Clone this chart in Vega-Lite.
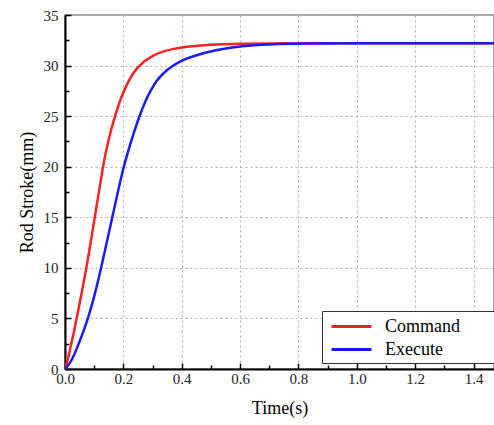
{
  "$schema": "https://vega.github.io/schema/vega-lite/v6.json",
  "width": 429,
  "height": 354,
  "autosize": {"type": "none"},
  "padding": {"left": 65, "top": 15, "right": 0, "bottom": 56},
  "background": "white",
  "config": {
    "font": "Liberation Serif",
    "view": {"stroke": "#8a8a8a", "strokeWidth": 1.5},
    "text": {"font": "Liberation Serif"},
    "axis": {
      "domainColor": "black",
      "domainWidth": 2,
      "tickColor": "black",
      "tickWidth": 1.5,
      "labelFont": "Liberation Serif",
      "labelFontSize": 15,
      "labelColor": "#222",
      "titleFont": "Liberation Serif",
      "titleFontSize": 18,
      "titleFontWeight": "normal",
      "titleColor": "black",
      "gridColor": "#b0b0b0",
      "gridDash": [2, 3],
      "gridWidth": 1
    },
    "legend": {"labelFont": "Liberation Serif", "titleFont": "Liberation Serif"}
  },
  "data": {
    "values": [
      {"t": 0, "y": 0, "series": "Command"},
      {"t": 0.01, "y": 1.0, "series": "Command"},
      {"t": 0.02, "y": 2.3, "series": "Command"},
      {"t": 0.03, "y": 3.6, "series": "Command"},
      {"t": 0.04, "y": 5.0, "series": "Command"},
      {"t": 0.057, "y": 7.5, "series": "Command"},
      {"t": 0.074, "y": 10.1, "series": "Command"},
      {"t": 0.088, "y": 12.5, "series": "Command"},
      {"t": 0.102, "y": 15.0, "series": "Command"},
      {"t": 0.116, "y": 17.5, "series": "Command"},
      {"t": 0.129, "y": 19.8, "series": "Command"},
      {"t": 0.14, "y": 21.5, "series": "Command"},
      {"t": 0.152, "y": 23.0, "series": "Command"},
      {"t": 0.171, "y": 25.0, "series": "Command"},
      {"t": 0.19, "y": 26.7, "series": "Command"},
      {"t": 0.215, "y": 28.4, "series": "Command"},
      {"t": 0.247, "y": 29.9, "series": "Command"},
      {"t": 0.298, "y": 31.05, "series": "Command"},
      {"t": 0.367, "y": 31.7, "series": "Command"},
      {"t": 0.47, "y": 32.05, "series": "Command"},
      {"t": 0.6, "y": 32.18, "series": "Command"},
      {"t": 0.8, "y": 32.2, "series": "Command"},
      {"t": 1.0, "y": 32.2, "series": "Command"},
      {"t": 1.47, "y": 32.2, "series": "Command"},
      {"t": 0, "y": 0, "series": "Execute"},
      {"t": 0.017, "y": 0.55, "series": "Execute"},
      {"t": 0.03, "y": 1.3, "series": "Execute"},
      {"t": 0.046, "y": 2.4, "series": "Execute"},
      {"t": 0.063, "y": 3.7, "series": "Execute"},
      {"t": 0.08, "y": 5.1, "series": "Execute"},
      {"t": 0.1, "y": 7.1, "series": "Execute"},
      {"t": 0.124, "y": 10.0, "series": "Execute"},
      {"t": 0.143, "y": 12.5, "series": "Execute"},
      {"t": 0.162, "y": 15.0, "series": "Execute"},
      {"t": 0.181, "y": 17.5, "series": "Execute"},
      {"t": 0.2, "y": 19.9, "series": "Execute"},
      {"t": 0.218, "y": 21.7, "series": "Execute"},
      {"t": 0.235, "y": 23.3, "series": "Execute"},
      {"t": 0.255, "y": 25.0, "series": "Execute"},
      {"t": 0.275, "y": 26.5, "series": "Execute"},
      {"t": 0.295, "y": 27.6, "series": "Execute"},
      {"t": 0.313, "y": 28.5, "series": "Execute"},
      {"t": 0.34, "y": 29.35, "series": "Execute"},
      {"t": 0.37, "y": 30.0, "series": "Execute"},
      {"t": 0.4, "y": 30.5, "series": "Execute"},
      {"t": 0.435, "y": 30.9, "series": "Execute"},
      {"t": 0.515, "y": 31.55, "series": "Execute"},
      {"t": 0.607, "y": 31.95, "series": "Execute"},
      {"t": 0.7, "y": 32.1, "series": "Execute"},
      {"t": 0.8, "y": 32.18, "series": "Execute"},
      {"t": 1.0, "y": 32.2, "series": "Execute"},
      {"t": 1.47, "y": 32.2, "series": "Execute"}
    ]
  },
  "mark": {"type": "line", "interpolate": "basis", "strokeWidth": 2.5, "clip": true},
  "encoding": {
    "x": {
      "field": "t",
      "type": "quantitative",
      "scale": {"domain": [0, 1.47], "nice": false, "zero": false},
      "axis": {
        "title": "Time(s)",
        "values": [0, 0.1, 0.2, 0.3, 0.4, 0.5, 0.6, 0.7, 0.8, 0.9, 1.0, 1.1, 1.2, 1.3, 1.4],
        "labelExpr": "round(datum.value * 10) % 2 == 0 ? format(datum.value, '.1f') : ''",
        "tickSize": {"condition": {"test": "round(datum.value * 10) % 2 == 0", "value": -6}, "value": -4},
        "gridOpacity": {"condition": {"test": "round(datum.value * 10) % 2 == 0", "value": 1}, "value": 0},
        "labelPadding": 8,
        "titlePadding": 13,
        "labelFlush": false
      }
    },
    "y": {
      "field": "y",
      "type": "quantitative",
      "scale": {"domain": [0, 35], "nice": false},
      "axis": {
        "title": "Rod Stroke(mm)",
        "values": [0, 2.5, 5, 7.5, 10, 12.5, 15, 17.5, 20, 22.5, 25, 27.5, 30, 32.5, 35],
        "labelExpr": "datum.value % 5 == 0 ? format(datum.value, 'd') : ''",
        "tickSize": {"condition": {"test": "datum.value % 5 == 0", "value": -6}, "value": -4},
        "gridOpacity": {"condition": {"test": "datum.value % 5 == 0", "value": 1}, "value": 0},
        "labelPadding": 13,
        "titlePadding": 7,
        "labelFlush": false
      }
    },
    "color": {
      "field": "series",
      "type": "nominal",
      "scale": {"domain": ["Command", "Execute"], "range": ["#ff2222", "#1a1aff"]},
      "legend": {
        "title": "\u00a0",
        "titleOrient": "right",
        "titlePadding": 30,
        "orient": "none",
        "legendX": 257,
        "legendY": 296,
        "symbolType": "M-2,0H2",
        "symbolSize": 400,
        "symbolStrokeWidth": 3,
        "symbolOffset": 14,
        "labelFontSize": 18,
        "labelColor": "black",
        "labelOffset": 22,
        "rowPadding": 2,
        "padding": 4,
        "strokeColor": "#333",
        "fillColor": "white"
      }
    }
  }
}
